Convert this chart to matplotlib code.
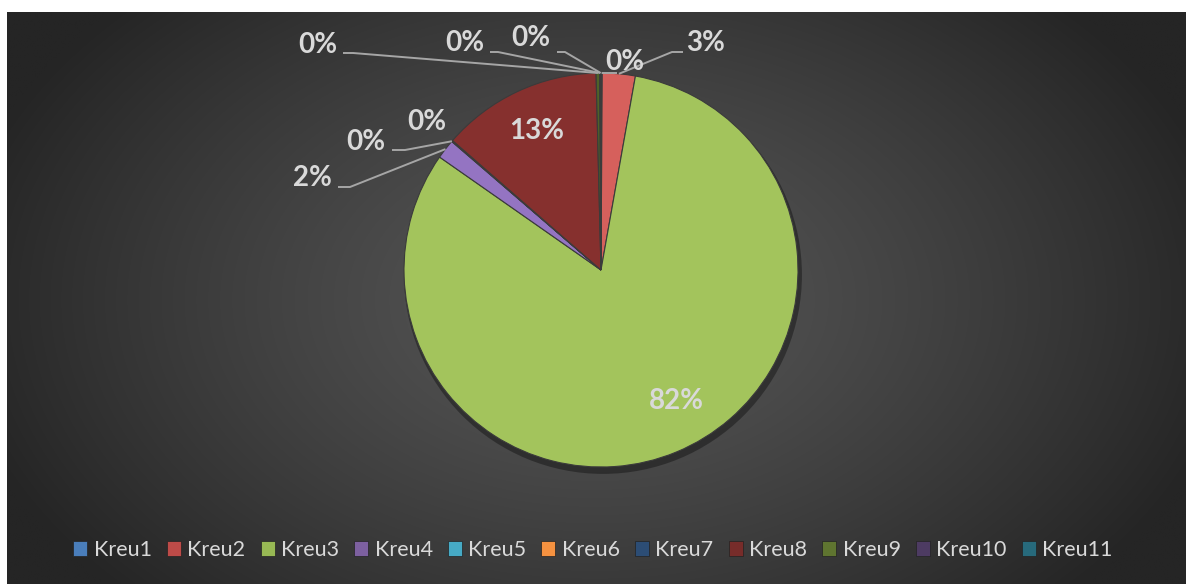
import numpy as np
import matplotlib
matplotlib.use("Agg")
import matplotlib.pyplot as plt
from matplotlib.patches import Patch, Circle

# ---- data ----
categories = ["Kreu1", "Kreu2", "Kreu3", "Kreu4", "Kreu5", "Kreu6",
              "Kreu7", "Kreu8", "Kreu9", "Kreu10", "Kreu11"]
values = [0.1, 2.7, 82.0, 1.6, 0.05, 0.05, 0.0, 13.2, 0.3, 0.05, 0.05]
show_label = [True, True, True, True, True, True, False, True, True, True, True]

# ---- styles ----
pie_colors = ['#4f81bd', '#d6605c', '#a3c45c', '#9474c2', '#4bacc6', '#f79646',
              '#2c4d75', '#86302e', '#4f6228', '#4d3b62', '#276a7c']
legend_colors = ['#4a7ebb', '#be4b48', '#98b954', '#7d60a0', '#46aac5', '#f69240',
                 '#2c4d75', '#772c2a', '#5f7530', '#4d3b62', '#276a7c']
text_color = '#d9d9d9'
leader_color = '#a6a6a6'
FONT = ['Lato', 'DejaVu Sans']

# label layout (pixel positions of text centres and leader elbow/end points)
label_pos = [(625, 62), (706, 43), (676, 401), (312, 178), (366, 142), (427, 122),
             None, (537, 131), (318, 45), (465, 43), (531, 38)]
leader_path = [[(617, 73)], [(672, 52), (683, 52)], None, [(350, 187), (338, 187)],
               [(405, 150), (392, 150)], None, None, None,
               [(353, 53), (343, 53)], [(498, 52), (490, 52)], [(565, 52), (557, 52)]]

W, H = 1186, 584
cx, cy, R = 601, 270, 197

def px(x, y):
    return ((x - cx) / R, (cy - y) / R)

fig = plt.figure(figsize=(W / 100, H / 100), dpi=100)
fig.patch.set_facecolor('white')
ax = fig.add_axes([0, 0, 1, 1])

# background radial gradient
gx = np.linspace(7, W, 600)
gy = np.linspace(12, H, 300)
X, Y = np.meshgrid(gx, gy)
d = np.sqrt(((X - 595) / 650) ** 2 + ((Y - 300) / 430) ** 2)
d = np.clip(d, 0, 1)
c0 = np.array([0x56, 0x56, 0x56]) / 255
c1 = np.array([0x25, 0x25, 0x25]) / 255
img = c0 + (c1 - c0) * (d[..., None] ** 1.3)
x0, y0 = px(7, 12)
x1, y1 = px(W, H)
ax.imshow(img, extent=[x0, x1, y1, y0], origin='upper', zorder=0,
          aspect='auto', interpolation='bilinear')

# shadow
ax.add_patch(Circle((0.01, -0.025), 1.01, color='black', alpha=0.35, zorder=1, lw=0))

wedges, _ = ax.pie(values, colors=pie_colors, startangle=90, counterclock=False,
                   radius=1, center=(0, 0),
                   wedgeprops=dict(edgecolor='#3b3b3b', linewidth=0.8, zorder=2))

total = sum(values)
cum = 0.0
for i, v in enumerate(values):
    mid = cum + v / 2
    cum += v
    if not show_label[i]:
        continue
    ang = np.deg2rad(90 - 360 * mid / total)
    lx, ly = px(*label_pos[i])
    txt = f"{round(v / total * 100):.0f}%"
    ax.text(lx, ly, txt, ha='center', va='center', fontsize=20, fontweight='bold',
            color=text_color, family=FONT, zorder=5)
    if leader_path[i] is not None:
        xs = [np.cos(ang) * 1.0]
        ys = [np.sin(ang) * 1.0]
        for p in leader_path[i]:
            a, b = px(*p)
            xs.append(a)
            ys.append(b)
        ax.plot(xs, ys, color=leader_color, lw=1.4, zorder=4, solid_capstyle='butt')

ax.set_xlim(-cx / R, (W - cx) / R)
ax.set_ylim((cy - H) / R, cy / R)
ax.set_aspect('auto')
ax.axis('off')

handles = [Patch(facecolor=c, edgecolor='#222222', linewidth=0.5) for c in legend_colors]
leg = fig.legend(handles, categories, loc='center', bbox_to_anchor=(0.5, 1 - 550 / H),
                 ncol=11, frameon=False, handlelength=0.65, handleheight=0.65,
                 handletextpad=0.3, columnspacing=0.7, borderaxespad=0,
                 prop={'family': FONT, 'size': 15.5})
for t in leg.get_texts():
    t.set_color(text_color)

fig.savefig('out.png', dpi=100, facecolor='white')
